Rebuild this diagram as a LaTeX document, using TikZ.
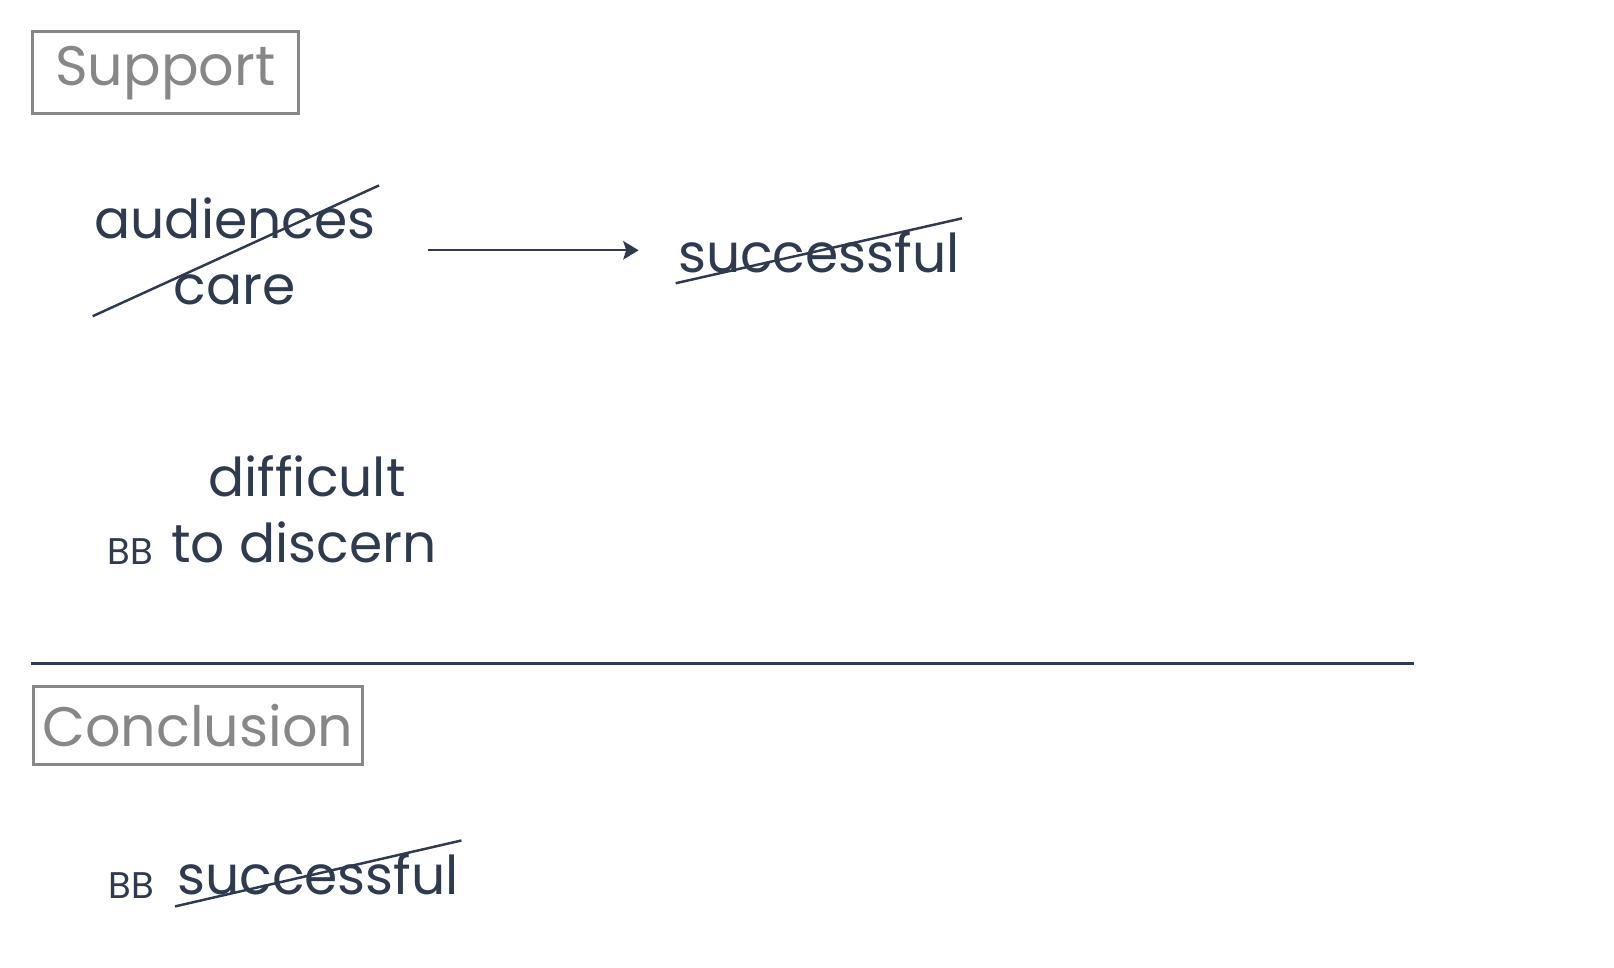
\documentclass[tikz,border=0pt]{standalone}
\usepackage{fontspec}
\setmainfont{Poppins}
\usepackage{tikz}
\usetikzlibrary{arrows.meta,calc,positioning}
\definecolor{ink}{HTML}{2E3A4F}
\definecolor{tag}{HTML}{878787}
\tikzset{
  word/.style={anchor=base,text=ink,inner sep=0pt,font=\fontsize{52}{60}\selectfont},
  small/.style={anchor=base,text=ink,inner sep=0pt,font=\fontsize{36}{40}\selectfont},
  tagbox/.style={draw=tag,line width=3pt,text=tag,anchor=north west,inner sep=0pt,
    font=\fontsize{54}{60}\selectfont},
  strike/.style={ink,line width=2.4pt}
}
\begin{document}
\begin{tikzpicture}[x=1pt,y=-1pt]
    \useasboundingbox (0,0) rectangle (1567,939);

    \node[tagbox,minimum width=258pt,minimum height=80pt] (SUP) at (30,29) {Support};
    \node[word] (AUD) at (228,232) {audiences};
    \node[word] (CARE) at (228,296) {care};
    \node[word] (SUCC) at (795,265) {successful};
    \node[word] (DIFF) at (298,482) {difficult};
    \node[word,anchor=base west] (DISC) at (166,546) {to discern};
    \node[small,anchor=base east] (BB1) at (149,548) {BB};

    \coordinate (line-l) at (30,644);
    \coordinate (line-r) at (1373,644);
    \draw[ink,line width=3pt] (line-l) -- (line-r);

    \node[tagbox,minimum width=319pt,minimum height=76pt] (CON) at (31,665) {Conclusion};
    \node[small,anchor=base east] (BB2) at (150,872) {BB};
    \node[word,anchor=base west] (SUCC2) at (172,868) {successful};

    % strike-throughs
    \coordinate (s1a) at (90,307);  \coordinate (s1b) at (368,180);
    \coordinate (s2a) at (656,275); \coordinate (s2b) at (934,212);
    \coordinate (s3a) at (170,880); \coordinate (s3b) at (448,816);
    \draw[strike] (s1a) -- (s1b);
    \draw[strike] (s2a) -- (s2b);
    \draw[strike] (s3a) -- (s3b);

    \coordinate (arr-l) at (416,243);
    \coordinate (arr-r) at (620,243);
    \draw[ink,line width=2pt,-{Stealth[length=15pt,width=18pt,inset=3pt]}] (arr-l) -- (arr-r);
  \end{tikzpicture}
\end{document}
